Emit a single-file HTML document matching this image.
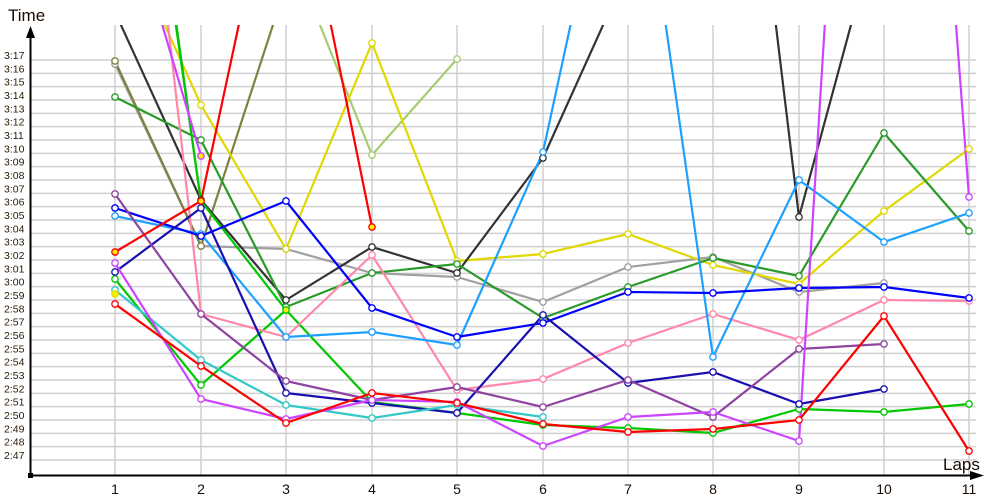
<!DOCTYPE html>
<html><head><meta charset="utf-8"><style>
html,body{margin:0;padding:0;background:#fff;}
svg{display:block;font-family:"Liberation Sans",sans-serif;}
</style></head><body>
<svg width="1000" height="500" viewBox="0 0 1000 500" xmlns="http://www.w3.org/2000/svg">
<defs><clipPath id="c"><rect x="31" y="25" width="960" height="449"/></clipPath></defs>
<g stroke="#cfcfcf" stroke-width="1.5">
<line x1="115" y1="25" x2="115" y2="475"/><line x1="201" y1="25" x2="201" y2="475"/><line x1="286" y1="25" x2="286" y2="475"/><line x1="372" y1="25" x2="372" y2="475"/><line x1="457" y1="25" x2="457" y2="475"/><line x1="543" y1="25" x2="543" y2="475"/><line x1="628" y1="25" x2="628" y2="475"/><line x1="713" y1="25" x2="713" y2="475"/><line x1="799" y1="25" x2="799" y2="475"/><line x1="884" y1="25" x2="884" y2="475"/><line x1="969" y1="25" x2="969" y2="475"/>
</g>
<g id="hg" stroke="#d0d0d0" stroke-width="1.5"></g>
<g font-size="10.5" fill="#2a1a00" id="yl"></g>
<g stroke="#000" stroke-width="2"><line x1="30.5" y1="475" x2="30.5" y2="38"/><line x1="30" y1="475.5" x2="972" y2="475.5"/></g>
<polygon points="30.5,26 26,38 35,38" fill="#000"/>
<polygon points="984,475.5 970,471 970,480" fill="#000"/>
<rect x="28" y="473" width="5" height="5" fill="#000"/>
<text x="8" y="21" font-size="17" fill="#1a0a00">Time</text>
<text x="943" y="470" font-size="17" fill="#1a0a00">Laps</text>
<g font-size="14" fill="#1a0a00" text-anchor="middle">
<text x="115" y="494">1</text><text x="201" y="494">2</text><text x="286" y="494">3</text><text x="372" y="494">4</text><text x="457" y="494">5</text><text x="543" y="494">6</text><text x="628" y="494">7</text><text x="713" y="494">8</text><text x="799" y="494">9</text><text x="884" y="494">10</text><text x="969" y="494">11</text>
</g>
<g clip-path="url(#c)" fill="none" stroke-width="2.2" stroke-linejoin="round">
<polyline stroke="#a0a0a0" points="115,64 201,246 286,249 372,273 457,277 543,302 628,267 713,257 799,292 884,283"/>
<polyline stroke="#808040" points="115,61 201,246 286,-15"/>
<polyline stroke="#a8cc70" points="286,-60 372,155 457,59"/>
<polyline stroke="#e0d800" points="115,-85 201,105 286,249 372,43 457,261 543,254 628,234 713,265 799,284 884,211 969,149"/>
<polyline stroke="#333333" points="115,12 201,200 286,300 372,247 457,273 543,158 628,-30 713,-497 799,217 884,-97"/>
<polyline stroke="#2a9a2a" points="115,97 201,140 286,307 372,273 457,264 543,318 628,287 713,258 799,276 884,133 969,231"/>
<polyline stroke="#22a022" points="115,-420 201,203"/>
<polyline stroke="#00c800" points="115,-400 201,201 286,310"/>
<polyline stroke="#00c800" points="115,279 201,385 286,310 372,402 457,413 543,425 628,428 713,433 799,409 884,412 969,404"/>
<polyline stroke="#ff88aa" points="115,-440 201,314 286,337 372,255 457,390 543,379 628,343 713,314 799,340 884,300 969,301"/>
<polyline stroke="#1ea0ff" points="115,216 201,234 286,337 372,332 457,345 543,152 628,-240 713,357 799,180 884,242 969,213"/>
<polyline stroke="#0000ff" points="115,208 201,236 286,201 372,308 457,337 543,323 628,292 713,293 799,288 884,287 969,298"/>
<polyline stroke="#1a10b0" points="115,272 201,208 286,393 372,403 457,413 543,315 628,383 713,372 799,404 884,389"/>
<polyline stroke="#8e44a0" points="115,194 201,314 286,381 372,400 457,387 543,407 628,380 713,417 799,349 884,344"/>
<polyline stroke="#33c8c8" points="115,290 201,360 286,405 372,418 457,405 543,417"/>
<polyline stroke="#cc44ff" points="115,-135 201,156"/>
<polyline stroke="#cc44ff" points="115,263 201,399 286,419 372,400 457,402 543,446 628,417 713,412 799,441 884,-930 969,197"/>
<polyline stroke="#ff0000" points="115,304 201,366 286,423 372,393 457,403 543,424 628,432 713,429 799,420 884,316 969,451"/>
<polyline stroke="#ff0000" points="115,252 201,201 286,-195 372,227"/>
</g>
<g id="mk" fill="#fff" stroke-width="1.3"></g>
<script>
var ns="http://www.w3.org/2000/svg";
var hg=document.getElementById("hg"),yl=document.getElementById("yl");
for(var i=0;i<=30;i++){var y=460-i*13.333;var l=document.createElementNS(ns,"line");l.setAttribute("x1",31);l.setAttribute("x2",976);l.setAttribute("y1",y);l.setAttribute("y2",y);hg.appendChild(l);
var s=167+i;var t=document.createElementNS(ns,"text");t.setAttribute("x",4);t.setAttribute("y",y-1);t.textContent=Math.floor(s/60)+":"+("0"+(s%60)).slice(-2);yl.appendChild(t);}
var S=[
["#a0a0a0","115,64 201,246 286,249 372,273 457,277 543,302 628,267 713,257 799,292 884,283"],
["#808040","115,61 201,246"],
["#a8cc70","372,155 457,59"],
["#e0d800","201,105 286,249 372,43 457,261 543,254 628,234 713,265 799,284 884,211 969,149"],
["#333333","201,200 286,300 372,247 457,273 543,158 799,217"],
["#2a9a2a","115,97 201,140 286,307 372,273 457,264 543,318 628,287 713,258 799,276 884,133 969,231"],
["#00c800","115,279 201,385 372,402 457,413 543,425 628,428 713,433 799,409 884,412 969,404"],
["#ff88aa","201,314 286,337 372,255 457,390 543,379 628,343 713,314 799,340 884,300 969,301"],
["#1ea0ff","115,216 201,234 286,337 372,332 457,345 543,152 713,357 799,180 884,242 969,213"],
["#0000ff","115,208 201,236 286,201 372,308 457,337 543,323 628,292 713,293 799,288 884,287 969,298"],
["#1a10b0","115,272 201,208 286,393 372,403 457,413 543,315 628,383 713,372 799,404 884,389"],
["#8e44a0","115,194 201,314 286,381 372,400 457,387 543,407 628,380 713,417 799,349 884,344"],
["#33c8c8","115,290 201,360 286,405 372,418 457,405 543,417"],
["#cc44ff","115,263 201,399 286,419 372,400 457,402 543,446 628,417 713,412 799,441 969,197"],
["#ff0000","115,304 201,366 286,423 372,393 457,403 543,424 628,432 713,429 799,420 884,316 969,451"],
["#ff0000","115,252 201,201 372,227","y"],
["#00c800","286,310","y"],
["#cc44ff","201,156","y"],
["#e8e000","115,294","y"]
];
var mk=document.getElementById("mk");
S.forEach(function(s){s[1].split(" ").forEach(function(p){var a=p.split(",");var c=document.createElementNS(ns,"circle");c.setAttribute("cx",a[0]);c.setAttribute("cy",a[1]);c.setAttribute("r",3.2);c.setAttribute("stroke",s[0]);if(s[2])c.setAttribute("fill","#ffee00");mk.appendChild(c);});});
</script>
</svg>
</body></html>
